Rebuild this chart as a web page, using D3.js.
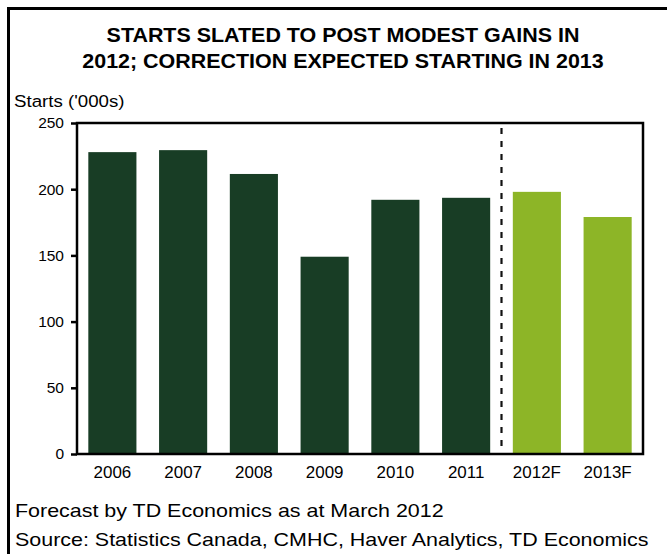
<!DOCTYPE html>
<html>
<head>
<meta charset="utf-8">
<script src="https://cdn.jsdelivr.net/npm/d3@7"></script>
<style>
  body { margin: 0; background: #fff; }
  svg { display: block; font-family: "Liberation Sans", Arial, sans-serif; }
</style>
</head>
<body>
<div id="chart"></div>
<script>
// data
var years = ['2006', '2007', '2008', '2009', '2010', '2011', '2012F', '2013F'];
var starts = [228, 229.5, 211.5, 149, 192, 193.5, 198, 179];
var forecast = [false, false, false, false, false, false, true, true];
var yTicks = [0, 50, 100, 150, 200, 250];
var titleLines = ['STARTS SLATED TO POST MODEST GAINS IN', '2012; CORRECTION EXPECTED STARTING IN 2013'];
var notes = ['Forecast by TD Economics as at March 2012', 'Source: Statistics Canada, CMHC, Haver Analytics, TD Economics'];

var W = 667, H = 554;
var plot = {left: 77, top: 123, right: 643, bottom: 454};
var darkGreen = '#183d25', lightGreen = '#8db527';

var svg = d3.select('#chart').append('svg')
    .attr('width', W)
    .attr('height', H);

// the source text is a bit wider than Arial, stretch it sideways
function stretch(sel, sx) {
    sel.each(function() {
        var t = d3.select(this);
        var tx = +t.attr('x') || 0, ty = +t.attr('y') || 0;
        t.attr('x', 0).attr('y', 0)
         .attr('transform', 'translate(' + tx + ',' + ty + ') scale(' + sx + ',1)');
    });
}

// outer frame, clipped at right and bottom like the source
svg.append('rect')
    .attr('x', 8.5).attr('y', 8.5)
    .attr('width', W + 20).attr('height', H + 20)
    .attr('fill', 'none')
    .attr('stroke', '#000')
    .attr('stroke-width', 3);

svg.selectAll('text.title')
    .data(titleLines)
    .enter().append('text')
    .attr('class', 'title')
    .attr('x', 343)
    .attr('y', function(d, i) { return 41.5 + i * 26.5; })
    .attr('text-anchor', 'middle')
    .style('font-size', '19.5px')
    .style('font-weight', 'bold')
    .text(function(d) { return d; })
    .call(stretch, 1.1);

svg.append('text')
    .attr('x', 14)
    .attr('y', 107)
    .style('font-size', '17px')
    .text("Starts ('000s)")
    .call(stretch, 1.1);

var x = d3.scaleBand().domain(years).range([plot.left, plot.right]).paddingInner(0.32).paddingOuter(0.16);
var y = d3.scaleLinear().domain([0, 250]).range([plot.bottom, plot.top]);

svg.selectAll('rect.bar')
    .data(years)
    .enter().append('rect')
    .attr('class', 'bar')
    .attr('x', function(d) { return x(d); })
    .attr('width', x.bandwidth())
    .attr('y', function(d, i) { return y(starts[i]); })
    .attr('height', function(d, i) { return y(0) - y(starts[i]); })
    .attr('fill', function(d, i) { return forecast[i] ? lightGreen : darkGreen; });

// dashed divider between actuals and forecast
var divX = (x('2011') + x.bandwidth() + x('2012F')) / 2;
svg.append('line')
    .attr('x1', divX).attr('x2', divX)
    .attr('y1', plot.top + 5).attr('y2', plot.bottom)
    .attr('stroke', '#111')
    .attr('stroke-width', 2.2)
    .attr('stroke-dasharray', '6,7');

// plot box
svg.append('rect')
    .attr('x', plot.left).attr('y', plot.top)
    .attr('width', plot.right - plot.left).attr('height', plot.bottom - plot.top)
    .attr('fill', 'none')
    .attr('stroke', '#000')
    .attr('stroke-width', 2.5);

var yAxis = svg.append('g')
    .attr('transform', 'translate(' + plot.left + ',0)')
    .call(d3.axisLeft(y).tickValues(yTicks).tickSize(6).tickPadding(7));
yAxis.select('.domain').remove();
yAxis.selectAll('line').attr('stroke', '#000').attr('stroke-width', 2.5);
yAxis.selectAll('text')
    .style('font-size', '15.5px')
    .style('font-family', '"Liberation Sans", Arial, sans-serif')
    .attr('fill', '#000');

var xAxis = svg.append('g')
    .attr('transform', 'translate(0,' + plot.bottom + ')')
    .call(d3.axisBottom(x).tickSize(0).tickPadding(13));
xAxis.select('.domain').remove();
xAxis.selectAll('text')
    .style('font-size', '16px')
    .style('font-family', '"Liberation Sans", Arial, sans-serif')
    .attr('fill', '#000')
    .attr('transform', 'scale(1.06,1)')
    .attr('x', function() { return 0; });
// keep centred: scale around each tick's own origin
xAxis.selectAll('.tick text').each(function() {
    d3.select(this).attr('transform', 'scale(1.06,1)');
});

svg.selectAll('text.note')
    .data(notes)
    .enter().append('text')
    .attr('class', 'note')
    .attr('x', 15)
    .attr('y', function(d, i) { return 517 + i * 29; })
    .style('font-size', '18.5px')
    .text(function(d) { return d; })
    .call(stretch, 1.16);
</script>
</body>
</html>
